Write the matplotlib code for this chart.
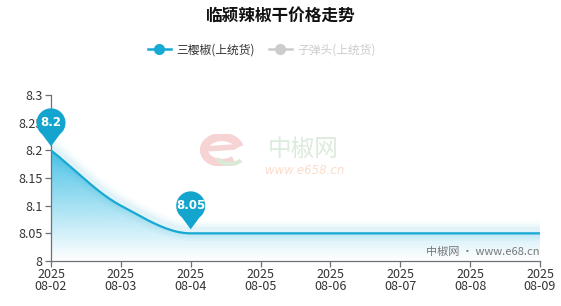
import numpy as np
import matplotlib
matplotlib.use("Agg")
import matplotlib.pyplot as plt
import matplotlib.transforms as mtransforms
from matplotlib.path import Path
from matplotlib.patches import PathPatch, Arc
from matplotlib.lines import Line2D

plt.rcParams['font.family'] = ['Noto Sans CJK SC', 'DejaVu Sans']

title = "临颍辣椒干价格走势"
series_names = ["三樱椒(上统货)", "子弹头(上统货)"]
dates = ["2025\n08-02", "2025\n08-03", "2025\n08-04", "2025\n08-05",
         "2025\n08-06", "2025\n08-07", "2025\n08-08", "2025\n08-09"]
prices = [8.2, 8.1, 8.05, 8.05, 8.05, 8.05, 8.05, 8.05]
y_ticks = [8.0, 8.05, 8.1, 8.15, 8.2, 8.25, 8.3]
y_labels = ["8", "8.05", "8.1", "8.15", "8.2", "8.25", "8.3"]

LINE = "#17a8d3"
PIN = "#14a5cf"


def monotone_curve(x, y, n=40):
    """Monotone cubic (Fritsch-Carlson) smoothing through the points."""
    x = np.asarray(x, float)
    y = np.asarray(y, float)
    h = np.diff(x)
    d = np.diff(y) / h
    m = np.zeros_like(y)
    m[0], m[-1] = d[0], d[-1]
    for i in range(1, len(y) - 1):
        if d[i - 1] * d[i] > 0:
            m[i] = 2 * d[i - 1] * d[i] / (d[i - 1] + d[i])
        else:
            m[i] = 0.0
    xs, ys = [], []
    for i in range(len(x) - 1):
        t = np.linspace(0, 1, n, endpoint=(i == len(x) - 2))
        h00 = 2 * t**3 - 3 * t**2 + 1
        h10 = t**3 - 2 * t**2 + t
        h01 = -2 * t**3 + 3 * t**2
        h11 = t**3 - t**2
        xs.append(x[i] + t * h[i])
        ys.append(h00 * y[i] + h10 * h[i] * m[i] + h01 * y[i + 1] + h11 * h[i] * m[i + 1])
    return np.concatenate(xs), np.concatenate(ys)


fig = plt.figure(figsize=(5.61, 3.06), dpi=100)
ax = fig.add_axes([51 / 561, 1 - 261 / 306, 489 / 561, 166 / 306])

xi = np.arange(len(prices))
cx, cy = monotone_curve(xi, prices)

ymin, ymax = 8.0, 8.3
ax.set_xlim(0, len(prices) - 1)
ax.set_ylim(ymin, ymax)

# gradient area under the line
top = max(prices)
grad = np.linspace(0, 1, 256).reshape(-1, 1)
rgba = np.zeros((256, 1, 4))
rgba[..., 0] = 0x1e / 255
rgba[..., 1] = 0xb4 / 255
rgba[..., 2] = 0xe1 / 255
rgba[..., 3] = 0.8 * grad
img = ax.imshow(rgba, extent=[0, len(prices) - 1, ymin, top], origin="lower",
                aspect="auto", zorder=1, interpolation="bilinear")
clip = Path(np.vstack([np.column_stack([cx, cy]), [[cx[-1], ymin], [cx[0], ymin]]]))
img.set_clip_path(clip, transform=ax.transData)

# soft glow along the line
for lw, a in [(14, 0.03), (10, 0.04), (6, 0.06)]:
    ax.plot(cx, cy + 0.004, color=LINE, lw=lw, alpha=a, solid_capstyle="round", zorder=2)
ax.plot(cx, cy, color=LINE, lw=1.6, zorder=3)

# axes styling
for s in ["top", "right"]:
    ax.spines[s].set_visible(False)
for s in ["left", "bottom"]:
    ax.spines[s].set_color("#6e7079")
    ax.spines[s].set_linewidth(0.9)
ax.set_yticks(y_ticks)
ax.set_yticklabels(y_labels)
ax.set_xticks(xi)
ax.set_xticklabels(dates, linespacing=0.95)
ax.tick_params(axis="both", colors="#6e7079", length=4, width=0.9, labelsize=9,
               labelcolor="#333333")
ax.tick_params(axis="x", pad=1)
ax.tick_params(axis="y", pad=2)
ax.set_facecolor("none")


def pin(xv, yv, text):
    r = 14.5
    cyc = 27.5
    tip = 4.0
    angs = np.linspace(np.radians(-52), np.radians(232), 60)
    pts = [(r * np.cos(a), cyc + r * np.sin(a)) for a in angs]
    verts = pts + [(0, tip), pts[0]]
    codes = [Path.MOVETO] + [Path.LINETO] * (len(verts) - 2) + [Path.CLOSEPOLY]
    tr = mtransforms.Affine2D() + mtransforms.ScaledTranslation(xv, yv, ax.transData)
    patch = PathPatch(Path(verts, codes), facecolor=PIN, edgecolor="none",
                      transform=tr, zorder=10, clip_on=False)
    ax.add_patch(patch)
    ttr = mtransforms.Affine2D().translate(0, cyc) + mtransforms.ScaledTranslation(xv, yv, ax.transData)
    ax.text(0, 0, text, transform=ttr, ha="center", va="center", color="white",
            fontsize=8.5, fontweight="bold", family=["DejaVu Sans"], zorder=11, clip_on=False)


imax = int(np.argmax(prices))
imin = int(np.argmin(prices))
pin(xi[imax], prices[imax], f"{prices[imax]:g}")
pin(xi[imin], prices[imin], f"{prices[imin]:g}")

# title and legend
fig.text(280.5 / 561, 1 - 16 / 306, title, ha="center", va="center",
         fontsize=12, fontweight="bold", color="#111111")
handles = [
    Line2D([], [], color=LINE, lw=1.8, marker="o", markersize=7, markerfacecolor=LINE),
    Line2D([], [], color="#cccccc", lw=1.8, marker="o", markersize=7, markerfacecolor="#cccccc"),
]
leg = fig.legend(handles, series_names, loc="center", bbox_to_anchor=(262 / 561, 1 - 50 / 306),
                 ncol=2, frameon=False, fontsize=8.5, handlelength=1.9, handletextpad=0.5,
                 columnspacing=1.2)
leg.get_texts()[0].set_color("#333333")
leg.get_texts()[1].set_color("#cccccc")

# watermark logo: a swirl "e" with a green tail, plus site name
wm = fig.add_axes([200 / 561, 1 - 166 / 306, 50 / 561, 32 / 306])
wm.set_xlim(0, 50)
wm.set_ylim(0, 32)
wm.axis("off")
wm.add_patch(Arc((22, 16), 36, 26, theta1=10, theta2=320, lw=6, color="#f7d4d4"))
wm.plot([5, 34], [17, 19], color="#f7d4d4", lw=4, solid_capstyle="round")
wm.add_patch(Arc((30, 12), 28, 20, theta1=200, theta2=330, lw=3, color="#d9ead6"))
fig.text(303 / 561, 1 - 149 / 306, "中椒网", ha="center", va="center", fontsize=17,
         color="#dcebdc", zorder=0)
fig.text(305 / 561, 1 - 171 / 306, "www.e658.cn", ha="center", va="center", fontsize=8.5,
         style="italic", color="#fbdccb", family=["DejaVu Sans"], zorder=0)
fig.text(540 / 561, 1 - 252 / 306, "中椒网 · www.e68.cn", ha="right", va="center",
         fontsize=8, color="#777777")

fig.savefig("out.png", dpi=100)
